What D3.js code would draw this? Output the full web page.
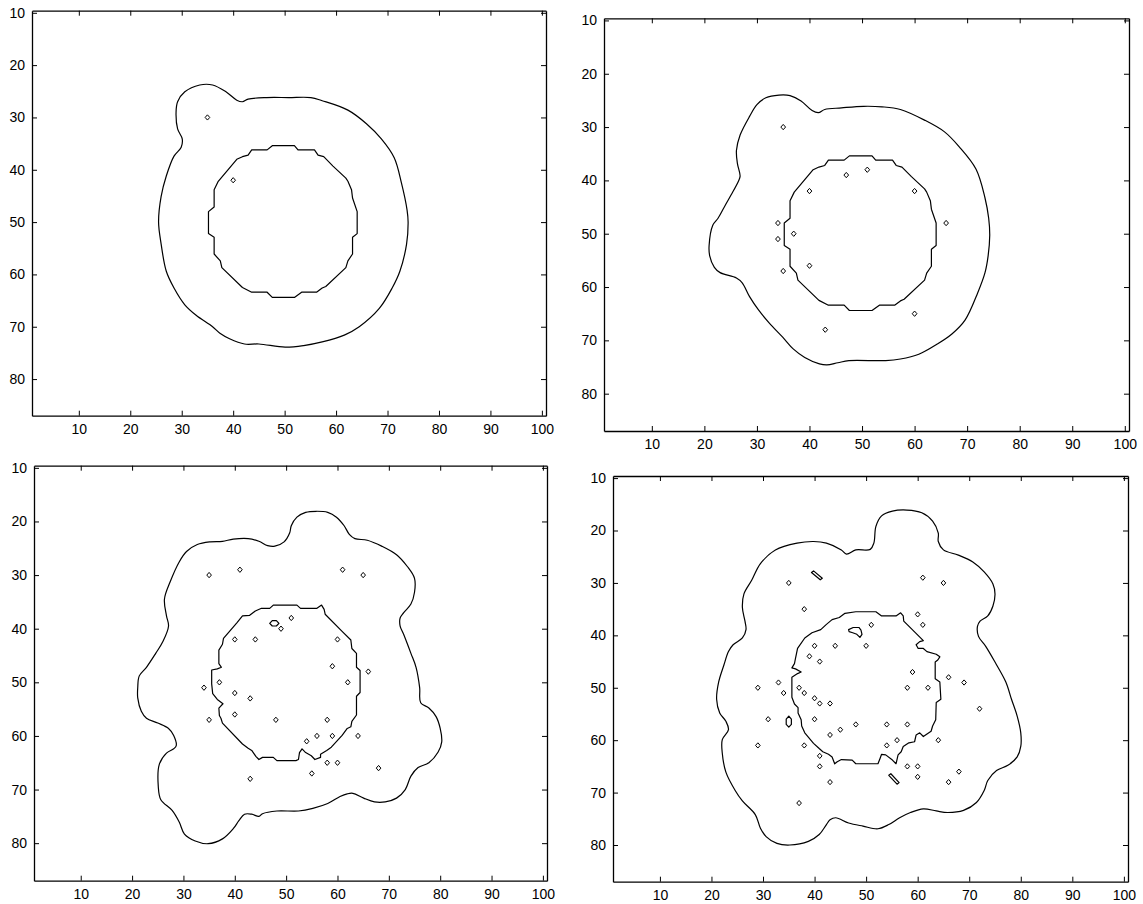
<!DOCTYPE html>
<html>
<head>
<meta charset="utf-8">
<script src="https://cdn.jsdelivr.net/npm/d3@7"></script>
<style>
  html, body { margin: 0; padding: 0; background: #fff; }
  svg { display: block; }
  .tick text { font-family: "Liberation Sans", Arial, sans-serif; font-size: 14px; fill: #000; }
</style>
</head>
<body>
<svg id="chart" width="1143" height="904"></svg>
<script>
// Axis ticks shared by all four panels
const xTicks = [10, 20, 30, 40, 50, 60, 70, 80, 90, 100];
const yTicks = [10, 20, 30, 40, 50, 60, 70, 80];
const xDomain = [0.9, 100.8];
const yDomain = [9.6, 87.0];

// Inner boundary (grid contour) used in the first two panels
const innerRing = [
  [47.6,35.4],[51.9,35.4],[52.6,36.2],[55.8,36.2],[56.5,37.2],[57.6,37.5],[59.4,39.3],
  [61.9,41.6],[62.3,42.2],[63.0,43.8],[63.2,45.4],[64.1,48.0],[64.1,52.2],[63.2,52.9],
  [63.2,56.1],[62.3,57.4],[61.9,58.7],[58.0,62.3],[57.3,62.6],[56.2,63.4],[53.3,63.4],
  [51.9,64.4],[47.6,64.4],[46.6,63.4],[43.6,63.4],[41.8,62.5],[37.8,58.7],[37.5,57.4],
  [36.3,56.1],[36.3,52.9],[35.2,52.2],[35.2,48.0],[36.3,47.1],[36.3,43.8],[37.1,42.2],
  [40.7,38.0],[41.8,37.5],[42.9,37.2],[43.6,36.2],[46.6,36.2]
];

// Outer boundaries
const outer1 = [
  [25.5,50],[26,45.1],[27,41.2],[28.5,37.4],[29.9,35.7],[30.1,34.1],[29.2,32.2],[28.9,29],
  [29.2,27],[30.6,25.1],[33.5,23.8],[36,23.8],[38.6,25.1],[40.7,26.7],[41.8,27],[42.9,26.5],
  [46.5,26.2],[50.8,26.2],[55.1,26.2],[57.3,26.8],[62.3,28.6],[65.9,31.2],[68.8,34.1],
  [71.3,37.7],[72.7,42.5],[73.8,47.7],[74,50],[73.7,54.2],[72.4,59.4],[70.9,62.6],[68.4,66.5],
  [64.5,70],[61.6,71.6],[57.3,72.9],[53.7,73.6],[50.1,73.9],[45,73.3],[42.2,73.3],[39.3,72.3],
  [37.5,71.3],[36,70],[32.8,67.8],[30.6,65.8],[28.5,62.6],[27,59.4],[26,54.2]
];
const outer2 = [
  [20.9,52.2],[21.6,48.4],[22.6,47.1],[24.0,44.6],[25.1,42.7],[26.5,40.1],[26.8,39.2],[26.3,36.9],
  [26.1,34.4],[26.8,31.5],[28.6,28.0],[30.0,25.8],[31.7,24.5],[34.2,24.0],[36.3,24.1],[38.4,25.1],
  [40.5,26.9],[41.7,27.3],[42.9,26.7],[46.1,26.4],[50.3,26.1],[53.8,26.2],[57.3,26.7],[61.9,28.7],
  [65.7,30.9],[68.5,33.7],[71.7,37.9],[73.4,43.3],[74.1,47.1],[74.3,50.3],[74.0,54.1],[73.4,57.3],
  [72.0,61.1],[69.6,66.2],[67.1,68.8],[64.3,70.7],[60.8,72.6],[57.3,73.5],[54.5,73.8],[47.5,73.8],
  [45.4,74.2],[43.3,74.6],[41.9,74.4],[39.1,73.2],[36.9,71.6],[34.9,69.4],[32.4,66.8],[30.3,64.3],
  [28.6,61.8],[27.2,59.2],[26.1,58.3],[23.0,57.3],[21.9,56.3],[21.0,54.1]
];
const outer3 = [
  [21.1,51.0],[21.4,48.8],[22.8,47.2],[24.6,44.6],[26.0,42.4],[27.1,39.5],[26.7,37.6],[26.3,34.5],
  [27.4,31.3],[29.2,27.5],[30.6,25.6],[32.7,24.3],[35.2,23.8],[37.6,23.7],[39.7,23.3],[42.6,23.2],
  [44.7,23.7],[46.4,24.5],[47.8,24.6],[49.6,23.8],[50.7,22.1],[51.0,20.8],[52.1,19.2],[53.8,18.3],
  [55.9,18.1],[58.1,18.3],[59.8,19.2],[61.3,20.8],[62.3,22.4],[63.4,23.2],[65.8,23.5],[68.6,24.6],
  [71.5,26.2],[73.6,28.4],[75.0,30.6],[75.0,33.2],[74.3,35.4],[72.9,37.0],[72.2,38.0],[72.2,39.5],
  [72.9,41.1],[74.3,44.6],[75.3,47.2],[76.0,51.0],[76.2,53.8],[77.8,54.8],[79.2,56.4],[80.0,58.6],
  [80.3,61.1],[79.6,63.0],[77.8,65.0],[75.7,65.9],[74.3,67.5],[73.2,70.0],[71.5,71.6],[69.3,72.3],
  [67.2,72.3],[65.1,71.6],[63.0,70.7],[61.9,70.8],[60.5,71.3],[58.1,72.6],[55.2,73.5],[52.4,74.0],
  [48.2,74.0],[45.4,74.5],[44.7,75.0],[43.3,74.6],[41.9,74.6],[40.8,75.8],[39.7,77.3],[37.6,79.2],
  [34.8,80.1],[32.3,79.6],[30.2,78.3],[29.2,76.1],[27.8,73.9],[25.6,71.9],[25.1,69.4],[25.3,65.3],
  [26.7,63.2],[28.1,62.4],[28.6,61.8],[28.1,59.9],[27.1,58.6],[25.0,57.6],[22.8,56.7],[21.8,55.4],
  [21.1,52.9]
];
const outer4 = [
  [21.0,52.2],[21.4,48.9],[22.4,45.7],[23.3,43.1],[24.2,41.8],[26.0,40.5],[26.7,38.9],[26.5,37.3],
  [26.0,34.7],[26.3,32.1],[27.8,29.5],[29.5,26.3],[32.4,23.7],[36.6,22.4],[39.8,22.1],[42.3,22.4],
  [45.2,23.7],[46.2,24.5],[48.0,23.7],[50.8,23.6],[51.5,22.4],[51.9,19.2],[53.0,17.2],[55.1,16.3],
  [57.9,16.1],[60.8,16.6],[62.9,18.2],[64.0,20.5],[64.0,22.1],[65.0,23.7],[67.9,24.7],[70.7,26.0],
  [72.9,27.9],[74.6,30.2],[75.0,32.1],[74.6,34.4],[73.6,36.3],[72.1,37.3],[71.6,38.3],[71.8,40.2],
  [73.2,42.1],[75.0,45.1],[77.1,48.9],[78.2,52.2],[79.3,55.4],[80.0,58.6],[80.0,61.2],[79.3,63.2],
  [77.5,64.8],[75.3,65.8],[73.6,67.7],[72.9,69.6],[71.4,71.9],[68.9,73.4],[65.8,73.8],[63.6,73.5],
  [61.1,73.1],[58.6,73.8],[56.5,74.8],[54.4,76.1],[52.3,76.9],[49.4,76.4],[46.6,75.8],[44.1,74.8],
  [43.0,75.2],[42.3,76.1],[40.9,78.0],[38.8,79.3],[35.2,80.0],[32.7,79.7],[30.6,78.4],[29.5,76.8],
  [28.5,74.2],[26.0,71.6],[24.6,69.6],[22.8,66.1],[22.1,62.5],[22.1,59.9],[23.3,58.0],[22.8,56.4],
  [21.6,54.8]
];

// Inner boundaries of the last two panels
const inner3 = [
  [44.0,36.7],[45.2,36.2],[46.8,36.2],[47.5,35.6],[52.1,35.6],[52.8,36.2],[56.0,36.2],[56.9,35.6],
  [57.4,36.4],[57.6,37.3],[60.9,40.5],[62.6,42.1],[62.8,43.7],[63.7,44.6],[63.7,47.2],[64.4,47.8],
  [64.4,51.9],[63.7,52.6],[63.7,56.1],[62.8,57.3],[62.6,58.3],[61.9,58.6],[60.9,59.9],[58.8,62.1],
  [57.9,62.7],[56.7,63.4],[56.7,64.0],[55.6,64.4],[54.9,63.7],[53.8,63.1],[53.1,62.4],[52.6,63.1],
  [52.4,64.4],[51.9,64.6],[48.2,64.6],[47.5,64.0],[45.4,64.0],[44.7,64.4],[44.1,63.8],[43.3,62.7],
  [42.6,62.3],[41.5,61.5],[37.6,57.6],[37.3,56.7],[37.0,56.2],[36.9,54.8],[37.7,54.0],[36.6,53.2],
  [35.7,52.1],[35.5,50.3],[35.5,47.7],[36.6,47.5],[37.4,47.2],[36.9,46.5],[36.9,44.0],[37.6,42.9],
  [37.8,41.8],[40.4,38.9],[41.5,37.6],[42.9,37.5]
];
const inner4 = [
  [41.2,38.9],[42.3,37.9],[43.4,37.0],[44.8,36.6],[45.9,35.8],[48.0,35.5],[51.9,35.5],[53.0,36.3],
  [55.8,36.3],[56.7,35.7],[57.2,36.3],[57.3,37.3],[61.1,41.0],[60.4,41.2],[59.7,41.8],[60.1,42.5],
  [61.1,42.5],[61.8,43.1],[63.6,43.6],[64.3,44.1],[63.9,44.7],[63.4,45.1],[63.4,48.3],[64.3,48.9],
  [64.5,52.2],[63.6,52.8],[63.5,56.1],[62.9,57.3],[62.6,58.3],[61.1,59.3],[60.4,58.6],[59.7,59.0],
  [59.4,60.3],[58.3,60.5],[57.2,61.2],[56.8,62.2],[56.2,62.8],[55.8,64.5],[55.1,63.8],[53.8,62.8],
  [53.0,62.7],[52.7,63.5],[52.3,64.5],[48.0,64.5],[47.3,63.8],[45.2,63.7],[44.4,64.1],[43.9,64.5],
  [43.4,63.2],[42.7,62.7],[41.6,62.2],[40.9,61.6],[39.8,60.6],[38.1,58.6],[37.5,57.3],[37.4,56.1],
  [36.8,54.8],[36.8,53.8],[36.1,53.1],[35.6,51.8],[35.6,48.0],[36.7,47.3],[37.4,47.0],[36.3,46.4],
  [35.6,46.2],[36.1,45.4],[36.3,44.4],[36.7,42.5],[38.1,40.5],[39.5,39.5]
];

// Small closed loops that are not single-cell peaks
const loops3 = [
  [[46.8,39.0],[47.3,38.5],[48.1,38.5],[48.6,39.0],[48.1,39.5],[47.3,39.5]]
];
const loops4 = [
  [[46.6,38.9],[47.5,38.5],[48.6,38.5],[49.0,39.0],[49.2,39.8],[48.8,40.4],[48.2,39.8],[47.4,39.5],[46.7,39.3]],
  [[39.4,28.0],[39.8,27.7],[41.5,29.1],[41.1,29.4]],
  [[54.4,66.7],[54.8,66.4],[56.4,68.1],[56.0,68.4]],
  [[35.0,55.4],[35.5,56.0],[35.5,57.0],[35.0,57.5],[34.5,57.0],[34.5,56.0]]
];

// Single-cell peaks, drawn as small diamonds
const peaks1 = [[35,30],[40,42]];
const peaks2 = [[35,30],[47,39],[51,38],[40,42],[60,42],[34,48],[66,48],[37,50],[34,51],[40,56],[35,57],[60,65],[43,68]];
const peaks3 = [[35,30],[41,29],[61,29],[65,30],[51,38],[49,40],[40,42],[44,42],[60,42],[59,47],[66,48],[62,50],
  [37,50],[34,51],[40,52],[43,53],[40,56],[35,57],[48,57],[58,57],[54,61],[56,60],[59,60],[64,60],[58,65],[60,65],
  [55,67],[43,68],[68,66]];
const peaks4 = [[35,30],[61,29],[65,30],[38,35],[60,36],[61,38],[51,38],[40,42],[44,42],[50,42],[39,44],[41,45],
  [59,47],[66,48],[69,49],[29,50],[33,49],[37,50],[34,51],[38,51],[58,50],[62,50],[40,52],[41,53],[43,53],[72,54],
  [31,56],[40,56],[48,57],[54,57],[58,57],[45,58],[43,59],[64,60],[56,60],[54,61],[29,61],[38,61],[41,63],[41,65],
  [58,65],[60,65],[60,67],[68,66],[66,68],[43,68],[37,72]];

// Panel frames on the page
const panels = [
  { box: [32, 10.7, 546, 415.7],  outer: outer1, inner: innerRing, loops: [],     peaks: peaks1 },
  { box: [604, 18.3, 1129, 431],  outer: outer2, inner: innerRing, loops: [],     peaks: peaks2 },
  { box: [34, 465.7, 547, 880.7], outer: outer3, inner: inner3,    loops: loops3, peaks: peaks3 },
  { box: [613, 476, 1128, 881.7], outer: outer4, inner: inner4,    loops: loops4, peaks: peaks4 }
];

const svg = d3.select("#chart");

panels.forEach(p => {
  const [x0, y0, x1, y1] = p.box;
  const x = d3.scaleLinear().domain(xDomain).range([x0, x1]);
  const y = d3.scaleLinear().domain(yDomain).range([y0, y1]);
  const g = svg.append("g");

  const smooth = d3.line().x(d => x(d[0])).y(d => y(d[1])).curve(d3.curveCatmullRomClosed.alpha(0.5));
  const poly = d3.line().x(d => x(d[0])).y(d => y(d[1])).curve(d3.curveLinearClosed);

  const marks = g.append("g").attr("fill", "none").attr("stroke", "#000").attr("stroke-width", 1.2)
    .attr("stroke-linejoin", "round");
  marks.append("path").attr("d", smooth(p.outer));
  marks.append("path").attr("d", poly(p.inner));
  p.loops.forEach(l => marks.append("path").attr("d", poly(l)));
  marks.selectAll("path.peak").data(p.peaks).join("path").attr("class", "peak")
    .attr("stroke-width", 1)
    .attr("d", d => poly([[d[0] - 0.45, d[1]], [d[0], d[1] - 0.5], [d[0] + 0.45, d[1]], [d[0], d[1] + 0.5]]));

  // Boxed axes with inward ticks on all four sides
  const tl = 5;
  g.append("g").attr("transform", `translate(0,${y1})`)
    .call(d3.axisBottom(x).tickValues(xTicks).tickSizeInner(-tl).tickSizeOuter(0).tickPadding(8));
  g.append("g").attr("transform", `translate(0,${y0})`)
    .call(d3.axisTop(x).tickValues(xTicks).tickSizeInner(-tl).tickSizeOuter(0).tickFormat(""));
  g.append("g").attr("transform", `translate(${x0},0)`)
    .call(d3.axisLeft(y).tickValues(yTicks).tickSizeInner(-tl).tickSizeOuter(0).tickPadding(7));
  g.append("g").attr("transform", `translate(${x1},0)`)
    .call(d3.axisRight(y).tickValues(yTicks).tickSizeInner(-tl).tickSizeOuter(0).tickFormat(""));

  g.selectAll(".domain").attr("stroke", "#000").attr("stroke-width", 1.3);
  g.selectAll(".tick line").attr("stroke", "#000").attr("stroke-width", 1);
});
</script>
</body>
</html>
